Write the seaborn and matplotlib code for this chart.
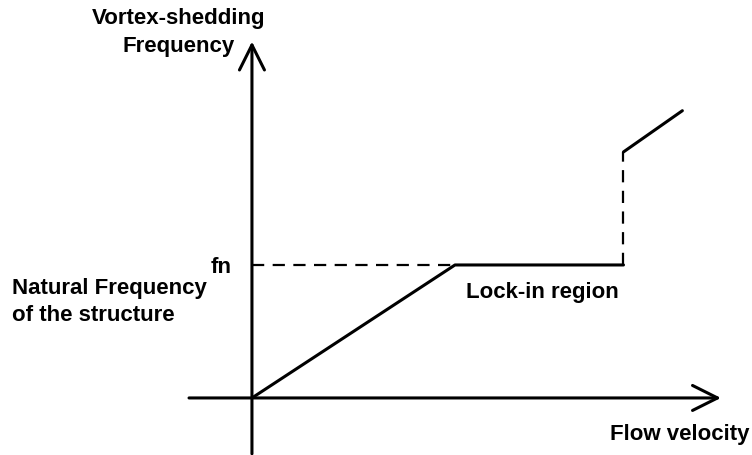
import matplotlib
matplotlib.use('Agg')
import matplotlib.pyplot as plt
import seaborn as sns

# flow velocity (lock-in onset = 1) and shedding frequency (fn = 1)
vel_main = [0.0, 1.0, 1.83]
freq_main = [0.0, 1.0, 1.0]
vel_jump = [1.83, 1.83]
freq_jump = [1.0, 1.85]
vel_after = [1.83, 2.12]
freq_after = [1.85, 2.16]
vel_fn = [0.0, 1.0]
freq_fn = [1.0, 1.0]

sns.set_theme(style='white')
plt.rcParams['font.family'] = ['Liberation Sans', 'DejaVu Sans']

fig = plt.figure(figsize=(7.52, 4.56), dpi=100)
ax = fig.add_axes([0, 0, 1, 1])
ax.set_xlim(-1.241, 2.463)
ax.set_ylim(-0.429, 3.0)
ax.axis('off')

solid = dict(color='black', lw=2.2, estimator=None, sort=False, legend=False, ax=ax)
dashed = dict(color='black', lw=1.6, estimator=None, sort=False, legend=False, ax=ax,
              linestyle=(0, (5.5, 3.8)))

sns.lineplot(x=vel_main, y=freq_main, **solid)
sns.lineplot(x=vel_after, y=freq_after, **solid)
sns.lineplot(x=vel_jump, y=freq_jump, **dashed)
sns.lineplot(x=vel_fn, y=freq_fn, **dashed)

arrow = dict(arrowstyle='->,head_length=0.9,head_width=0.45', mutation_scale=20,
             lw=2.2, color='black', shrinkA=0, shrinkB=0)
ax.annotate('', xy=(2.31, 0), xytext=(-0.31, 0), arrowprops=arrow)
ax.annotate('', xy=(0, 2.68), xytext=(0, -0.42), arrowprops=arrow)

fs = 16
txt = dict(fontsize=fs, fontweight='bold', color='black')
ax.text(-0.36, 2.755, 'Vortex-shedding\nFrequency', ha='center', va='center',
        linespacing=1.4, **txt)
ax.text(-0.15, 0.99, 'fn', ha='center', va='center', **txt)
ax.text(-1.18, 0.73, 'Natural Frequency\nof the structure', ha='left', va='center',
        linespacing=1.35, **txt)
ax.text(1.43, 0.80, 'Lock-in region', ha='center', va='center', **txt)
ax.text(2.45, -0.27, 'Flow velocity', ha='right', va='center', **txt)

fig.savefig('out.png', dpi=100)
